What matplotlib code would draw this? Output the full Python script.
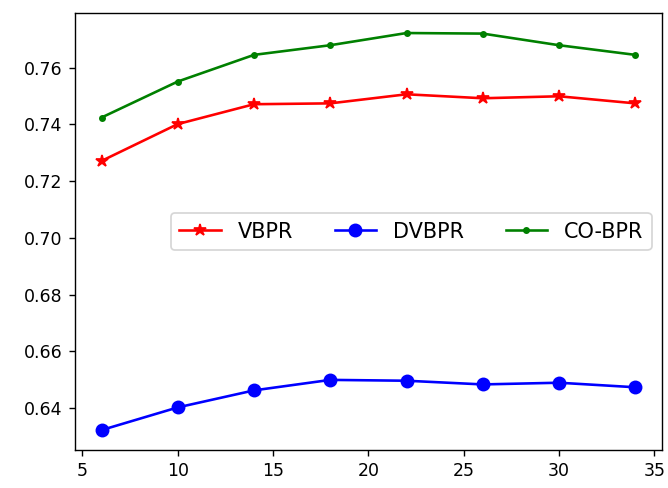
import matplotlib
matplotlib.use('Agg')
import matplotlib.pyplot as plt

# x values (dimension)
x = [6, 10, 14, 18, 22, 26, 30, 34]

# metric values per method
vbpr = [0.7271, 0.7401, 0.7471, 0.7474, 0.7506, 0.7492, 0.7499, 0.7474]
dvbpr = [0.6322, 0.6402, 0.6462, 0.6499, 0.6496, 0.6483, 0.6489, 0.6473]
cobpr = [0.7424, 0.7551, 0.7645, 0.7679, 0.7722, 0.7720, 0.7679, 0.7645]

fig = plt.figure(figsize=(5.344, 3.904), dpi=125)
ax = fig.add_axes([0.112, 0.078, 0.879, 0.895])

ax.plot(x, vbpr, color='red', marker='*', markersize=7, label='VBPR')
ax.plot(x, dvbpr, color='blue', marker='o', markersize=7, label='DVBPR')
ax.plot(x, cobpr, color='green', marker='.', label='CO-BPR')

ax.legend(loc='center right', ncol=3, fontsize=12)

fig.savefig('out.png', dpi=125)
